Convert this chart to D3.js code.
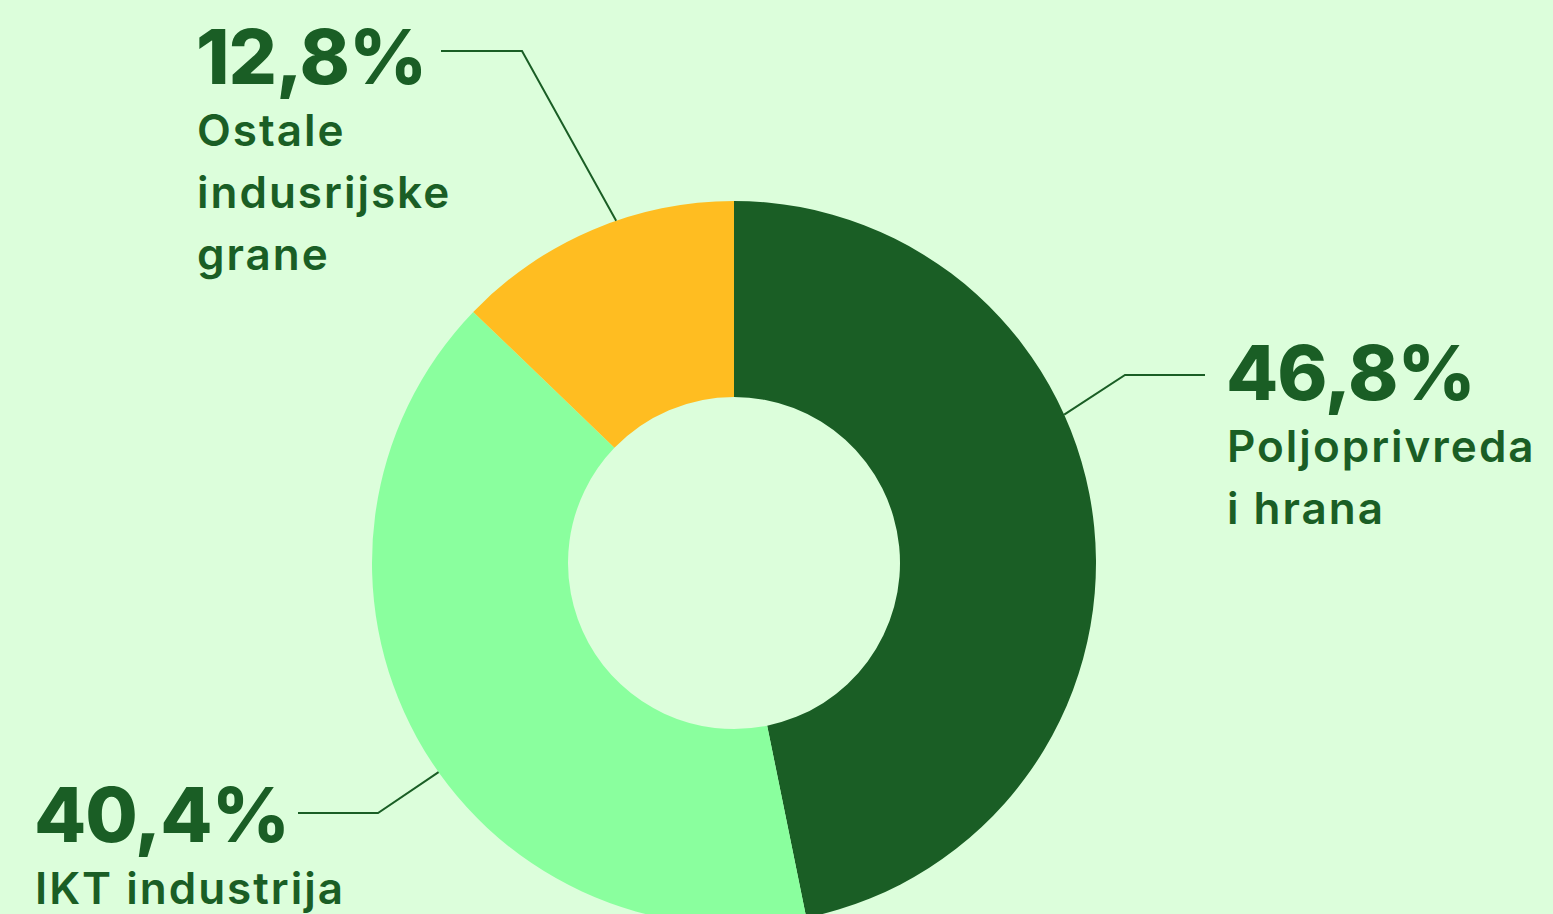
<!DOCTYPE html>
<html>
<head>
<meta charset="utf-8" />
<title>Udio po granama</title>
<script src="https://d3js.org/d3.v7.min.js"></script>
<style>
  html, body { margin: 0; padding: 0; background: #dcfedb; overflow: hidden; }
  svg { display: block; }
  .pct { font-family: Inter, "Noto Sans", sans-serif; font-weight: 800; fill: #1a5e25; }
  .lbl { font-family: Inter, "Noto Sans", sans-serif; font-weight: 600; fill: #1a5e25; }
</style>
</head>
<body>
<script>
  // data
  const categories = ["Poljoprivreda i hrana", "IKT industrija", "Ostale indusrijske grane"];
  const values = [46.8, 40.4, 12.8];
  const pctLabels = ["46,8%", "40,4%", "12,8%"];
  const labelLines = [["Poljoprivreda", "i hrana"], ["IKT industrija"], ["Ostale", "indusrijske", "grane"]];
  const colors = ["#1a5e25", "#8aff9e", "#ffbd21"];

  const width = 1553, height = 914;
  const cx = 734, cy = 563;
  const outerR = 362, innerR = 166;

  // label placement (text x, pct baseline, elbow, leader angle in degrees)
  const layout = [
    { tx: 1226, ty: 400, lineX0: 1205, elbowX: 1125, lineY: 375, angle: 65.8 },
    { tx: 34, ty: 842, lineX0: 298, elbowX: 378, lineY: 813, angle: 234.7 },
    { tx: 196, ty: 84, lineX0: 441, elbowX: 522, lineY: 51, angle: 341 }
  ];

  const svg = d3.select("body").append("svg")
    .attr("width", width)
    .attr("height", height);

  const pie = d3.pie().sort(null).value(d => d);
  const arc = d3.arc().innerRadius(innerR).outerRadius(outerR);

  const g = svg.append("g").attr("transform", `translate(${cx},${cy})`);

  g.selectAll("path")
    .data(pie(values))
    .join("path")
    .attr("d", arc)
    .attr("fill", (d, i) => colors[i]);

  // leader lines + labels
  layout.forEach(function(l, i) {
    const a = l.angle * Math.PI / 180;
    const ex = cx + outerR * Math.sin(a);
    const ey = cy - outerR * Math.cos(a);
    svg.append("polyline")
      .attr("points", [[l.lineX0, l.lineY], [l.elbowX, l.lineY], [ex, ey]].map(p => p.join(",")).join(" "))
      .attr("fill", "none")
      .attr("stroke", "#1a5e25")
      .attr("stroke-width", 2);

    svg.append("text")
      .attr("class", "pct")
      .attr("x", l.tx)
      .attr("y", l.ty)
      .attr("font-size", 76)
      .attr("letter-spacing", -1)
      .text(pctLabels[i]);

    const t = svg.append("text")
      .attr("class", "lbl")
      .attr("x", l.tx + 1)
      .attr("y", l.ty + 62)
      .attr("font-size", 44)
      .attr("letter-spacing", 2);
    labelLines[i].forEach(function(s, j) {
      t.append("tspan")
        .attr("x", l.tx + 1)
        .attr("dy", j === 0 ? 0 : 62)
        .text(s);
    });
  });
</script>
</body>
</html>
